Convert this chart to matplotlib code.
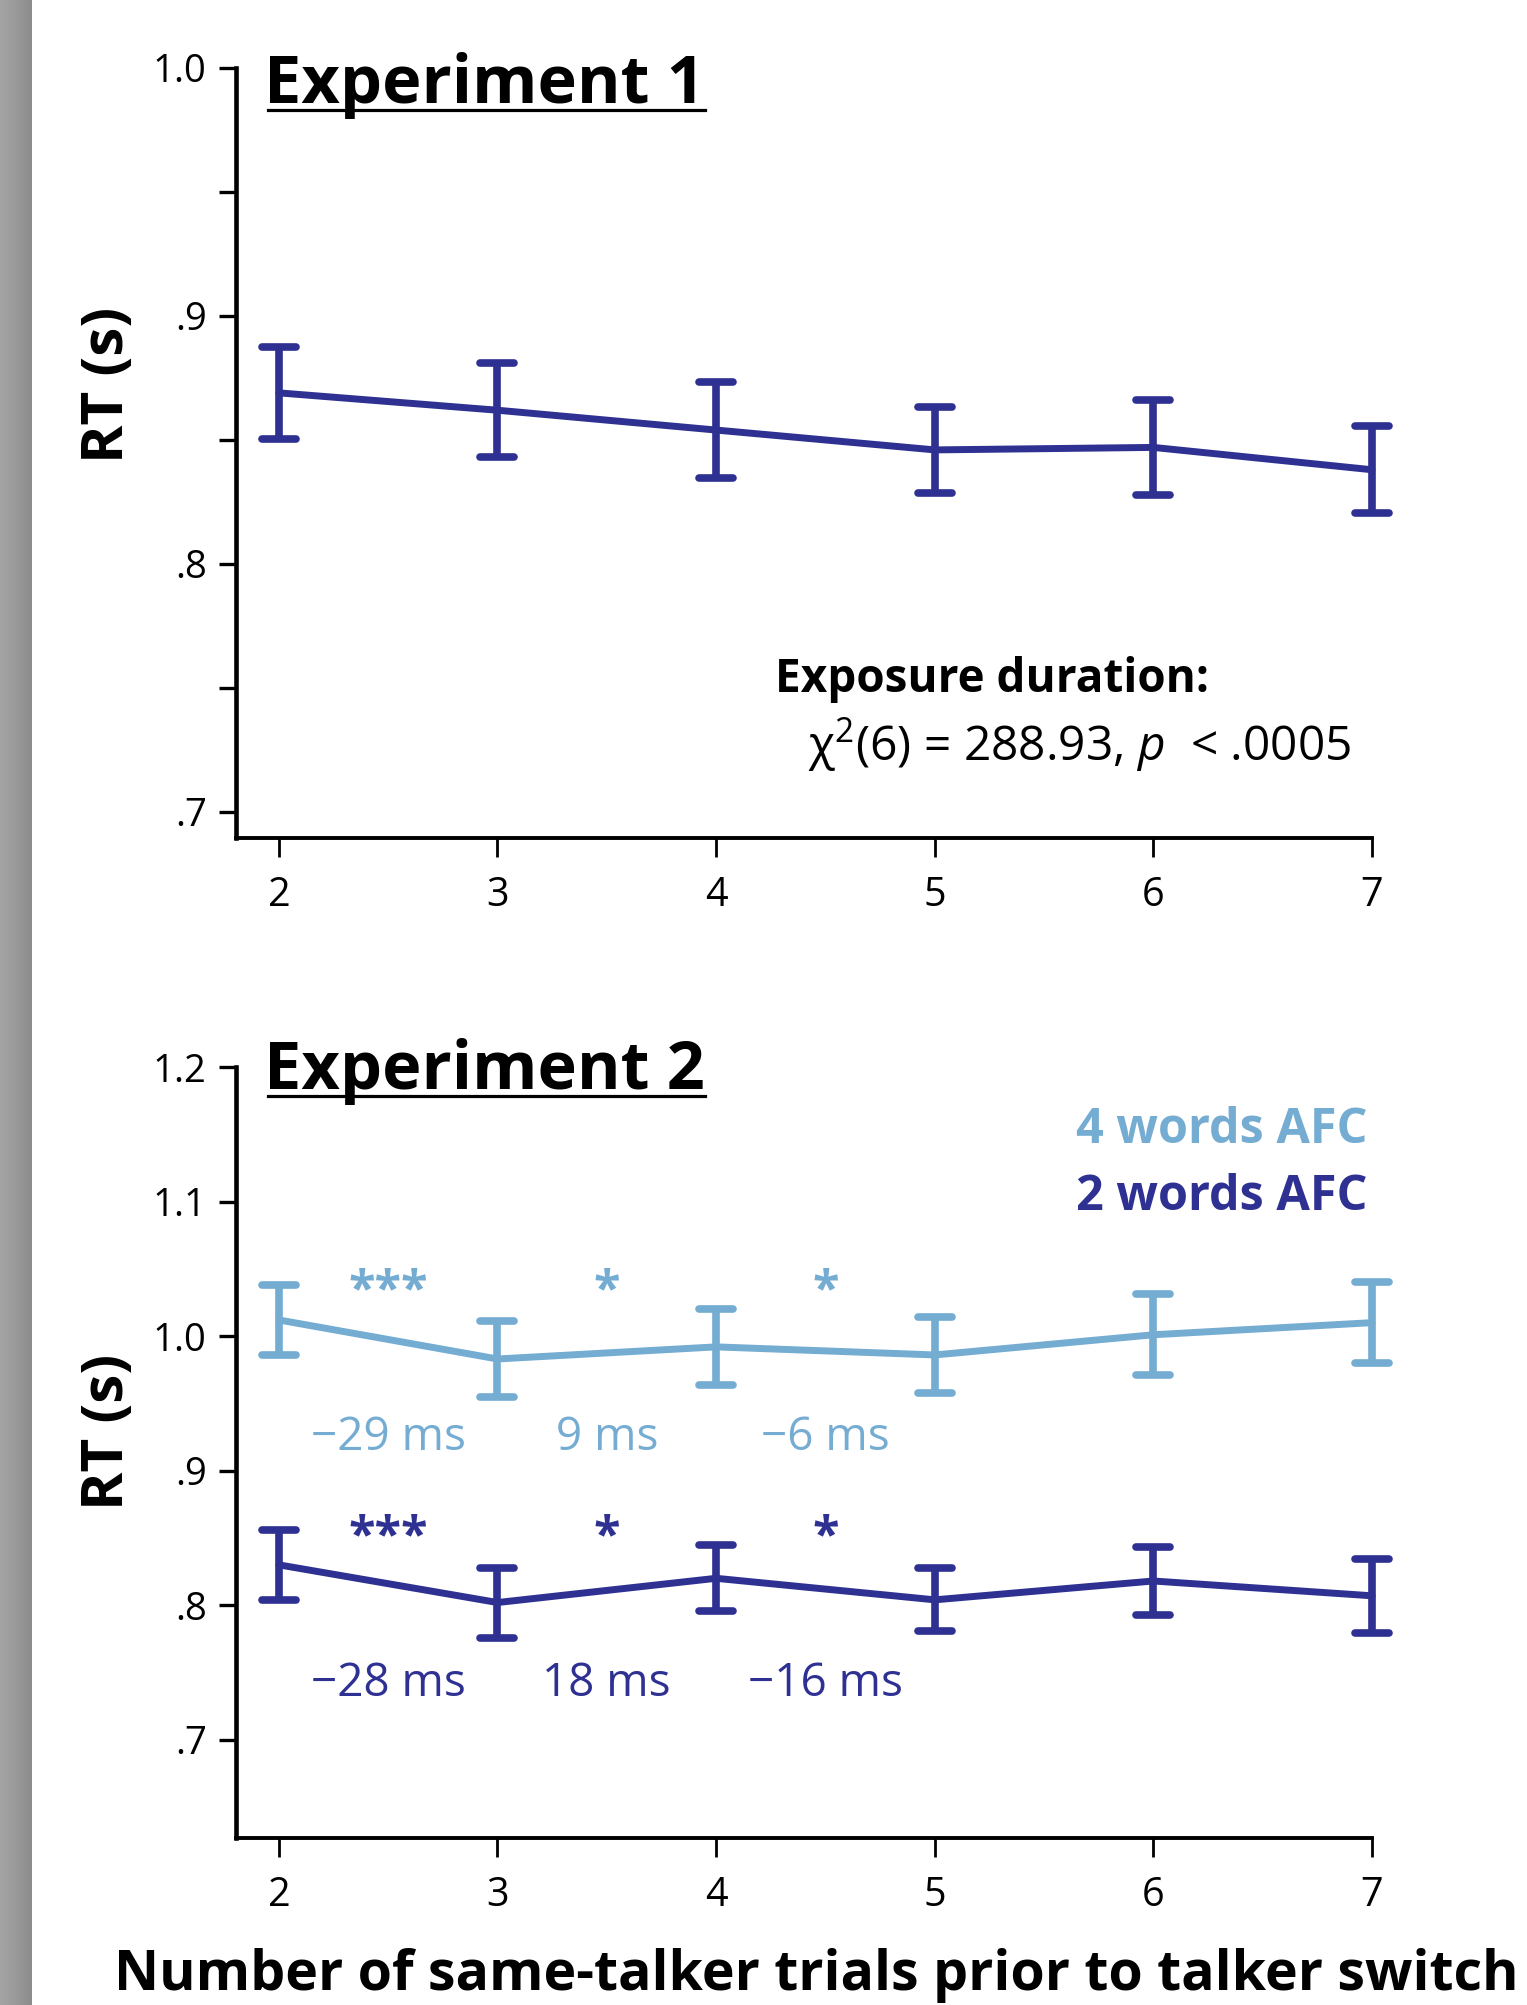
import matplotlib
matplotlib.use('Agg')
import matplotlib.pyplot as plt
import numpy as np
from matplotlib.lines import Line2D
from matplotlib.markers import MarkerStyle

plt.rcParams['font.family'] = ['Open Sans', 'DejaVu Sans']
plt.rcParams['mathtext.fontset'] = 'custom'
plt.rcParams['mathtext.rm'] = 'Open Sans'
plt.rcParams['mathtext.it'] = 'Open Sans:italic'
plt.rcParams['mathtext.bf'] = 'Open Sans:bold'

##############
# data (RT in seconds, error bars = SE)
##############
trials = [2, 3, 4, 5, 6, 7]

exp1_rt = [0.869, 0.862, 0.854, 0.846, 0.847, 0.838]
exp1_se = [0.0185, 0.019, 0.0195, 0.0175, 0.019, 0.0176]

afc4_rt = [1.012, 0.983, 0.992, 0.986, 1.001, 1.010]
afc4_se = [0.026, 0.028, 0.0285, 0.028, 0.030, 0.030]
afc2_rt = [0.830, 0.802, 0.820, 0.804, 0.818, 0.807]
afc2_se = [0.026, 0.026, 0.0245, 0.0235, 0.025, 0.0275]

diff_pos = [2.5, 3.5, 4.5]
afc4_diff = ['\u221229 ms', '9 ms', '\u22126 ms']
afc2_diff = ['\u221228 ms', '18 ms', '\u221216 ms']
afc4_stars = ['***', '*', '*']
afc2_stars = ['***', '*', '*']

exp1_ticks = [0.7, 0.8, 0.9, 1.0]
exp1_labels = ['.7', '.8', '.9', '1.0']
exp1_minor = [0.75, 0.85, 0.95]
exp2_ticks = [0.7, 0.8, 0.9, 1.0, 1.1, 1.2]
exp2_labels = ['.7', '.8', '.9', '1.0', '1.1', '1.2']

dark = '#2e3192'
light = '#74acd2'

##############
# figure layout (pixel helpers)
##############
W, H = 1527, 2005
fig = plt.figure(figsize=(W / 100, H / 100), dpi=100)


def fx(px):
    return px / W


def fy(py):
    return 1 - py / H


# grey strip on the left edge
strip = fig.add_axes([0, 0, fx(32), 1])
grad = np.linspace(0, 1, 64)[None, :]
strip.imshow(grad, aspect='auto', cmap=matplotlib.colors.LinearSegmentedColormap.from_list(
    'g', ['#a4a4a4', '#9a9a9a', '#8c8c8c']), extent=[0, 1, 0, 1])
strip.axis('off')

ax1 = fig.add_axes([fx(236), fy(838), fx(1372) - fx(236), 770 / H])
ax2 = fig.add_axes([fx(236), fy(1838), fx(1372) - fx(236), 771 / H])


def setup(ax, ylim, ticks, labels, minor=None):
    ax.set_xlim(1.804, 7)
    ax.set_ylim(*ylim)
    ax.spines[['top', 'right']].set_visible(False)
    ax.spines['left'].set_linewidth(3.3)
    ax.spines['bottom'].set_linewidth(2.8)
    ax.set_xticks(trials)
    ax.set_yticks(ticks)
    ax.set_yticklabels(labels)
    if minor:
        ax.set_yticks(minor, minor=True)
    ax.tick_params(axis='y', which='both', length=12, width=2.4, pad=9, labelsize=27.5)
    ax.tick_params(axis='x', length=14, width=2, pad=13, labelsize=28.5)


def draw(ax, y, err, color):
    cont = ax.errorbar(trials, y, yerr=err, color=color, lw=5, elinewidth=5.5,
                       capsize=12, capthick=5.5, solid_capstyle='round')
    for a in cont.get_children():
        a.set_clip_on(False)
    for cap in cont[1]:
        try:
            cap.set_marker(MarkerStyle('_', capstyle='round'))
        except TypeError:
            pass


setup(ax1, (0.6895, 1.0), exp1_ticks, exp1_labels, exp1_minor)
setup(ax2, (0.627, 1.2), exp2_ticks, exp2_labels)

draw(ax1, exp1_rt, exp1_se, dark)
draw(ax2, afc4_rt, afc4_se, light)
draw(ax2, afc2_rt, afc2_se, dark)

# change annotations between successive run lengths
for x, s, st in zip(diff_pos, afc4_diff, afc4_stars):
    ax2.text(x, 0.9152, s, ha='center', va='baseline', fontsize=33, color=light)
    ax2.text(x, 1.024, st, ha='center', va='baseline', fontsize=35, fontweight='bold', color=light)
for x, s, st in zip(diff_pos, afc2_diff, afc2_stars):
    ax2.text(x, 0.7323, s, ha='center', va='baseline', fontsize=33, color=dark)
    ax2.text(x, 0.841, st, ha='center', va='baseline', fontsize=35, fontweight='bold', color=dark)

##############
# texts
##############
titles = [fig.text(fx(264), fy(103), 'Experiment 1', fontsize=48, fontweight='bold', va='baseline'),
          fig.text(fx(264), fy(1089), 'Experiment 2', fontsize=48, fontweight='bold', va='baseline')]

fig.text(fx(775), fy(692), 'Exposure duration:', fontsize=33, fontweight='bold', va='baseline')
fig.text(fx(808), fy(761), r'$\mathrm{\chi}^{2}$(6) = 288.93, $p$  < .0005', fontsize=34.5, va='baseline')

fig.text(fx(1367), fy(1143), '4 words AFC', fontsize=35, fontweight='bold', color=light,
         ha='right', va='baseline')
fig.text(fx(1367), fy(1210), '2 words AFC', fontsize=35, fontweight='bold', color=dark,
         ha='right', va='baseline')

for yc in [384.5, 1432]:
    fig.text(fx(123), fy(yc), 'RT (s)', rotation=90, rotation_mode='anchor', ha='center',
             va='baseline', fontsize=42, fontweight='bold')

fig.text(fx(114), fy(1990), 'Number of same-talker trials prior to talker switch',
         fontsize=40, fontweight='bold', va='baseline')

# underline the panel titles
fig.canvas.draw()
renderer = fig.canvas.get_renderer()
for t in titles:
    bb = t.get_window_extent(renderer)
    x0, y0 = t.get_position()
    y_line = y0 - 7 / H
    fig.add_artist(Line2D([bb.x0 / W + 4 / W, bb.x1 / W], [y_line, y_line], color='black', lw=2.3))

fig.savefig('out.png', dpi=100)
